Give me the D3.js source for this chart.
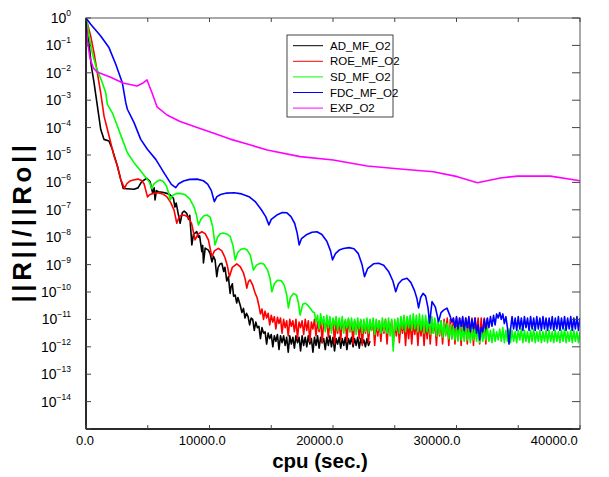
<!DOCTYPE html>
<html>
<head>
<meta charset="utf-8">
<script src="https://cdn.jsdelivr.net/npm/d3@7"></script>
<style>
  body { margin: 0; background: #fff; }
  text { font-family: "Liberation Sans", Arial, Helvetica, sans-serif; }
</style>
</head>
<body>
<svg id="chart" width="609" height="477"></svg>
<script>
const width = 609,
  height = 477

// residual history, [cpu seconds, log10(||R||/||Ro||)]
const seriesNames = ['AD_MF_O2', 'ROE_MF_O2', 'SD_MF_O2', 'FDC_MF_O2', 'EXP_O2']
const seriesColors = ['#000000', '#ff0000', '#00ff00', '#0000ff', '#ff00ff']

const adHead = [[0,0],[240,-0.9],[430,-1.75],[650,-2.36],[920,-3.21],[1190,-4.06],[1460,-4.43],[1860,-4.49],[2130,-4.79],[2540,-5.4],[2810,-5.89],[3020,-6.22],[3890,-6.25],[4210,-6.2],[4510,-5.97],[4920,-5.85],[5190,-5.97],[5400,-6.4],[5520,-6.2],[5590,-6.64],[5700,-6.3],[5860,-6.34],[6200,-6.36],[6540,-6.4],[6800,-6.45],[7080,-6.58],[7200,-6.9],[7300,-6.75],[7450,-7.1],[7620,-7.49],[7800,-7.1],[7950,-7.05],[8160,-7.13],[8300,-7.35],[8400,-7.2],[8570,-8.28],[8700,-7.9],[8970,-7.8],[9100,-8.0],[9200,-7.95],[9380,-8.53],[9450,-8.3],[9510,-8.94],[9650,-8.4],[9910,-8.47],[10050,-8.6],[10200,-8.9],[10320,-8.7],[10450,-8.83],[10590,-9.44],[10700,-9.1],[10850,-8.98],[11000,-8.95],[11150,-9.25],[11250,-9.1],[11400,-9.6],[11530,-9.44],[11670,-10.05],[11750,-9.8],[11850,-9.7],[11950,-10.15],[12080,-10.11],[12200,-10.4],[12300,-10.2]]
// noisy tails, sampled every 125 s
const adTail = [-10.5,-10.75,-10.6,-10.95,-10.78,-10.9,-11.2,-10.95,-11.0,-11.4,-11.1,-11.3,-11.25,-11.7,-11.3,-11.5,-11.45,-11.9,-11.5,-11.7,-11.55,-12.0,-11.6,-11.8,-11.55,-12.1,-11.6,-11.85,-11.6,-11.95,-11.65,-12.2,-11.6,-11.9,-11.65,-12.05,-11.6,-11.85,-11.65,-12.15,-11.6,-11.95,-11.65,-12.0,-11.6,-11.9,-11.7,-12.2,-11.65,-11.95,-11.6,-12.05,-11.65,-11.85,-11.7,-12.1,-11.65,-11.95,-11.6,-12.0,-11.65,-12.15,-11.7,-11.9,-11.65,-12.05,-11.7,-11.95,-11.65,-12.1,-11.7,-11.9,-11.65,-12.0,-11.7,-11.95,-11.65,-12.05,-11.7,-11.9,-11.75,-12.0,-11.7,-11.95,-11.8]

const roeHead = [[0,0],[60,-0.11],[380,-0.66],[650,-1.27],[920,-2.0],[1190,-2.73],[1460,-3.58],[1730,-4.06],[2000,-4.55],[2270,-5.04],[2540,-5.4],[2810,-5.89],[3120,-6.22],[3300,-6.05],[3550,-5.95],[3830,-5.91],[4210,-5.88],[4500,-5.93],[4700,-6.05],[4850,-6.3],[4980,-6.53],[5150,-6.45],[5450,-6.4],[5800,-6.38],[6200,-6.42],[6540,-6.52],[6850,-6.73],[7130,-7.01],[7350,-7.49],[7550,-7.25],[7760,-7.19],[8000,-7.2],[8290,-7.27],[8550,-7.5],[8830,-8.1],[9050,-7.9],[9380,-7.8],[9650,-7.87],[9910,-8.1],[10190,-8.71],[10400,-8.5],[10720,-8.41],[11000,-8.5],[11260,-8.75],[11450,-9.05],[11610,-9.44],[11850,-9.1],[12210,-8.97],[12500,-9.08],[12750,-9.3],[12900,-9.55],[13020,-9.86],[13150,-9.62],[13290,-9.56],[13500,-9.75],[13700,-10.05],[13850,-10.2]]
const roeTail = [-10.5,-10.8,-10.62,-11.0,-10.7,-10.95,-10.78,-11.2,
  -10.85,-11.1,-10.9,-11.35,-10.92,-11.15,-10.95,-11.5,
  -11.0,-11.3,-11.05,-11.6,-11.0,-11.25,-11.05,-11.45,
  -11.0,-11.7,-11.1,-11.3,-11.05,-11.55,-11.0,-11.4,
  -11.05,-11.8,-11.1,-11.35,-11.0,-11.6,-11.1,-11.45,
  -11.0,-11.85,-11.05,-11.3,-11.1,-11.65,-11.05,-11.4,
  -11.0,-11.9,-11.1,-11.5,-11.05,-11.75,-11.1,-11.35,
  -11.05,-11.8,-11.0,-11.45,-11.1,-11.9,-11.05,-11.4,
  -11.1,-11.7,-11.05,-11.95,-11.1,-11.5,-11.05,-11.85,
  -11.1,-11.4,-11.05,-11.95,-11.1,-11.6,-11.05,-11.8,
  -11.1,-11.5,-11.0,-11.9,-11.1,-11.45,-11.05,-11.95,
  -11.1,-11.6,-11.05,-11.85,-11.1,-11.5,-11.05,-11.95,
  -11.1,-11.7,-11.05,-11.9,-11.1,-11.55,-11.05,-11.95,
  -11.1,-11.6,-11.05,-11.95,-11.1,-11.7,-11.0,-11.9,
  -11.0,-11.5,-11.05,-11.95,-11.0,-11.6,-11.05,-11.9,
  -11.0,-11.55,-10.95,-11.95,-11.0,-11.7,-10.95,-11.9,
  -10.95,-11.6,-10.95,-11.95,-10.95,-11.5,-10.95,-11.9,
  -10.95,-11.65,-10.95,-11.95,-10.95,-11.55,-10.95,-11.9,
  -10.95,-11.6,-10.95,-11.9,-10.95]

const sdHead = [[0,0],[60,-0.05],[240,-0.66],[510,-1.27],[790,-1.75],[1050,-2.05],[1320,-2.36],[1600,-2.73],[1730,-3.15],[2130,-3.46],[2540,-3.94],[2940,-4.43],[3350,-4.92],[3890,-5.28],[4430,-5.58],[4970,-5.89],[5150,-6.0],[5320,-6.22],[5500,-6.05],[5780,-5.95],[6000,-5.91],[6250,-5.97],[6500,-6.12],[6700,-6.4],[6810,-6.64],[7000,-6.48],[7300,-6.41],[7600,-6.4],[8000,-6.44],[8400,-6.6],[8750,-6.9],[8950,-7.2],[9100,-7.55],[9300,-7.35],[9550,-7.22],[9800,-7.19],[10050,-7.27],[10250,-7.6],[10450,-8.28],[10650,-8.0],[10850,-7.88],[11100,-7.85],[11400,-7.88],[11670,-7.97],[11900,-8.3],[12080,-8.83],[12300,-8.55],[12550,-8.44],[12800,-8.41],[13050,-8.47],[13300,-8.65],[13560,-9.2],[13800,-9.02],[14100,-8.95],[14400,-8.98],[14700,-9.2],[14900,-9.5],[15050,-9.99],[15250,-9.7],[15500,-9.57],[15800,-9.58],[16050,-9.75],[16250,-10.1],[16390,-10.58],[16550,-10.2],[16800,-10.05],[17050,-10.12],[17200,-10.4],[17340,-10.84],[17550,-10.45],[17750,-10.41],[17950,-10.48],[18150,-10.59],[18380,-10.73]]
const sdTail = [-10.75,-11.1,-10.85,-11.35,-10.8,-11.2,-10.9,-11.45,
  -10.85,-11.3,-10.9,-11.5,-10.95,-11.25,-10.9,-11.4,
  -10.95,-11.35,-10.9,-11.5,-11.0,-11.3,-10.95,-11.45,
  -10.95,-11.4,-11.0,-11.55,-10.95,-11.35,-11.0,-11.5,
  -11.0,-11.45,-10.95,-11.5,-11.0,-11.4,-10.95,-11.55,
  -11.0,-11.4,-11.05,-11.5,-10.95,-11.45,-11.0,-11.5,
  -10.95,-11.6,-11.0,-12.15,-11.0,-11.4,-10.95,-11.5,
  -10.9,-11.35,-10.85,-11.45,-10.9,-11.3,-10.85,-11.4,
  -10.8,-11.35,-10.85,-11.45,-10.8,-11.4,-10.85,-11.5,
  -10.85,-11.45,-10.9,-11.55,-10.9,-11.5,-10.95,-11.6,
  -11.0,-11.55,-11.05,-11.65,-11.1,-11.6,-11.15,-11.7,
  -11.2,-11.7,-11.25,-11.75,-11.3,-11.8,-11.2,-11.75,
  -11.3,-11.8,-11.25,-11.75,-11.35,-11.85,-11.3,-11.75,
  -11.35,-11.8,-11.3,-11.85,-11.4,-11.8,-11.35,-11.75,
  -11.3,-11.8,-11.4,-11.85,-11.35,-11.8,-11.45,-11.75,
  -11.35,-11.8,-11.3,-11.85,-11.4,-11.8,-11.35,-11.85,
  -11.4,-11.8,-11.45,-11.85,-11.4,-11.75,-11.35,-11.85,
  -11.4,-11.8,-11.45,-11.85,-11.4,-11.8,-11.35,-11.85,
  -11.45,-11.8,-11.4,-11.85,-11.45,-11.8,-11.4,-11.85,
  -11.4,-11.8,-11.45,-11.85,-11.4,-11.8,-11.45,-11.85,
  -11.4,-11.8,-11.35,-11.85,-11.45,-11.8,-11.4,-11.85,
  -11.4,-11.8,-11.45,-11.85,-11.45]

const fdcHead = [[0,0],[380,-0.23],[1190,-0.66],[1860,-1.08],[2410,-1.69],[2940,-2.36],[3220,-3.09],[3350,-3.33],[3890,-3.82],[4430,-4.43],[4970,-4.79],[5650,-5.16],[6320,-5.65],[6910,-6.07],[7270,-6.19],[7500,-6.05],[7900,-5.95],[8400,-5.89],[9000,-5.88],[9500,-5.94],[9850,-6.06],[10150,-6.3],[10390,-6.7],[10600,-6.52],[10900,-6.44],[11400,-6.39],[12000,-6.38],[12600,-6.42],[13200,-6.52],[13700,-6.7],[14200,-7.0],[14550,-7.25],[14810,-7.55],[15000,-7.35],[15450,-7.19],[15900,-7.1],[16270,-7.11],[16600,-7.25],[16900,-7.5],[17100,-7.85],[17260,-8.28],[17450,-8.05],[17890,-7.9],[18300,-7.82],[18700,-7.8],[19100,-7.9],[19500,-8.15],[19800,-8.5],[19960,-8.83],[20200,-8.6],[20500,-8.47],[20850,-8.41],[21300,-8.38],[21700,-8.42],[22050,-8.6],[22350,-9.0],[22550,-9.44],[22800,-9.15],[23280,-8.97],[23700,-8.95],[24100,-9.02],[24500,-9.25],[24850,-9.6],[25080,-9.99],[25300,-9.7],[25600,-9.55],[25990,-9.5],[26300,-9.65],[26600,-9.95],[26800,-10.25],[26930,-10.58],[27100,-10.2],[27290,-10.05],[27500,-10.15],[27700,-10.6],[27820,-11.14],[28020,-10.35],[28280,-10.54],[28550,-11.08],[28750,-10.75],[28960,-10.66],[29230,-10.59],[29500,-10.9]]
const fdcTail = [-11.1,-10.95,-11.3,-10.9,-11.35,-10.95,-11.25,-10.9,
  -11.4,-10.95,-11.3,-10.9,-11.45,-11.0,-11.35,-10.95,
  -11.5,-11.2,-11.75,-11.3,-11.45,-11.0,-11.35,-10.95,
  -11.3,-10.9,-11.25,-10.85,-11.2,-10.8,-10.95,-10.75,
  -11.0,-10.8,-11.15,-10.9,-11.3,-11.9,-11.35,-10.9,
  -11.35,-10.95,-11.4,-10.9,-11.35,-10.95,-11.4,-10.9,
  -11.3,-10.95,-11.4,-10.9,-11.35,-10.95,-11.4,-10.9,
  -11.35,-10.95,-11.4,-10.9,-11.35,-10.95,-11.4,-10.95,
  -11.35,-10.9,-11.4,-10.95,-11.35,-10.9,-11.4,-10.95,
  -11.35,-10.9,-11.4,-10.95,-11.35,-10.9,-11.4,-10.95,
  -11.35,-10.9,-11.4,-10.95]

const expData = [[0,0],[105,-0.8],[320,-1.46],[590,-1.82],[890,-1.97],[1950,-2.15],[3000,-2.37],[4130,-2.48],[4620,-2.37],[4940,-2.26],[5350,-2.74],[5750,-3.24],[6560,-3.54],[7620,-3.78],[9000,-4.0],[10290,-4.2],[11670,-4.42],[13050,-4.6],[14670,-4.82],[17340,-5.06],[20020,-5.18],[22770,-5.4],[25450,-5.51],[28120,-5.61],[30070,-5.79],[31690,-6.01],[33550,-5.84],[34930,-5.77],[37600,-5.77],[40000,-5.94]]

const tailStarts = [12500, 14000, 18500, 29625]
const tailStep = 125

const xTicks = [0, 10000, 20000, 30000, 40000]
const xMinorTicks = [5000, 15000, 25000, 35000]
const yExponents = [0, -1, -2, -3, -4, -5, -6, -7, -8, -9, -10, -11, -12, -13, -14]

function joinTail(head, tail, start) {
  return head.concat(tail.map((v, i) => [start + i * tailStep, v]))
}

const series = [
  joinTail(adHead, adTail, tailStarts[0]),
  joinTail(roeHead, roeTail, tailStarts[1]),
  joinTail(sdHead, sdTail, tailStarts[2]),
  joinTail(fdcHead, fdcTail, tailStarts[3]),
  expData
]

const plot = { left: 86, right: 580, top: 18, bottom: 429 }

let x = d3.scaleLinear().domain([0, 40000]).range([plot.left, plot.right])
let y = d3.scaleLog().domain([1e-15, 1]).range([plot.bottom, plot.top])

let svg = d3.select('#chart')

svg.append('defs')
  .append('clipPath')
  .attr('id', 'plotClip')
  .append('rect')
  .attr('x', plot.left)
  .attr('y', plot.top)
  .attr('width', plot.right - plot.left)
  .attr('height', plot.bottom - plot.top)

// curves
let line = d3.line()
  .x(d => x(d[0]))
  .y(d => y(Math.pow(10, d[1])))

svg.append('g')
  .attr('clip-path', 'url(#plotClip)')
  .selectAll('path')
  .data(series)
  .enter()
    .append('path')
    .attr('d', line)
    .attr('fill', 'none')
    .attr('stroke', (d, i) => seriesColors[i])
    .attr('stroke-width', 1.6)
    .attr('stroke-linejoin', 'round')

// frame
svg.append('rect')
  .attr('x', plot.left)
  .attr('y', plot.top)
  .attr('width', plot.right - plot.left)
  .attr('height', plot.bottom - plot.top)
  .attr('fill', 'none')
  .attr('stroke', '#555')
  .attr('stroke-width', 1)

svg.append('line')
  .attr('x1', plot.left).attr('x2', plot.left)
  .attr('y1', plot.top).attr('y2', plot.bottom)
  .attr('stroke', '#000').attr('stroke-width', 1.5)
svg.append('line')
  .attr('x1', plot.left).attr('x2', plot.right)
  .attr('y1', plot.bottom).attr('y2', plot.bottom)
  .attr('stroke', '#000').attr('stroke-width', 1.5)

// inward ticks
let ticks = svg.append('g').attr('stroke', '#444').attr('stroke-width', 1)
xTicks.concat(xMinorTicks).forEach(v => {
  ticks.append('line').attr('x1', x(v)).attr('x2', x(v)).attr('y1', plot.bottom).attr('y2', plot.bottom - 4)
  ticks.append('line').attr('x1', x(v)).attr('x2', x(v)).attr('y1', plot.top).attr('y2', plot.top + 4)
})
yExponents.concat([-15]).forEach(e => {
  let yy = y(Math.pow(10, e))
  ticks.append('line').attr('x1', plot.left).attr('x2', plot.left + 5).attr('y1', yy).attr('y2', yy)
  ticks.append('line').attr('x1', plot.right).attr('x2', plot.right - 8).attr('y1', yy).attr('y2', yy)
})

// x tick labels (the original spreads them slightly narrower than the ticks)
svg.append('g')
  .selectAll('text')
  .data(xTicks)
  .enter()
    .append('text')
    .attr('x', d => 85 + (x(d) - plot.left) * 0.95)
    .attr('y', 445)
    .attr('text-anchor', 'middle')
    .attr('font-size', 13)
    .text(d => d.toFixed(1))

// y tick labels 10^n
let yLabels = svg.append('g')
  .selectAll('text')
  .data(yExponents)
  .enter()
    .append('text')
    .attr('x', 71)
    .attr('y', d => y(Math.pow(10, d)) + 5)
    .attr('text-anchor', 'end')
    .attr('font-size', 14)
yLabels.append('tspan').text('10')
yLabels.append('tspan')
  .attr('dy', -7)
  .attr('font-size', 8.5)
  .text(d => d === 0 ? '0' : '\u2212' + (-d))

// axis titles
svg.append('text')
  .attr('x', 320)
  .attr('y', 468)
  .attr('text-anchor', 'middle')
  .attr('font-size', 20.5)
  .attr('font-weight', 'bold')
  .text('cpu (sec.)')

svg.append('text')
  .attr('transform', 'translate(31, 222) rotate(-90)')
  .attr('text-anchor', 'middle')
  .attr('font-size', 26)
  .attr('font-weight', 'bold')
  .attr('letter-spacing', 3.5)
  .text('||R||/||Ro||')

// legend
let legend = svg.append('g')
legend.append('rect')
  .attr('x', 287).attr('y', 35)
  .attr('width', 106).attr('height', 82)
  .attr('fill', '#fff')
  .attr('stroke', '#444')
  .attr('stroke-width', 1)

let rows = legend.selectAll('g.row')
  .data(seriesNames)
  .enter()
    .append('g')
    .attr('class', 'row')
    .attr('transform', (d, i) => `translate(0, ${45.7 + i * 15.6})`)

rows.append('line')
  .attr('x1', 293).attr('x2', 323)
  .attr('stroke', (d, i) => seriesColors[i])
  .attr('stroke-width', 1)

rows.append('text')
  .attr('x', 330)
  .attr('y', 4)
  .attr('font-size', 11.5)
  .text(d => d)
</script>
</body>
</html>
